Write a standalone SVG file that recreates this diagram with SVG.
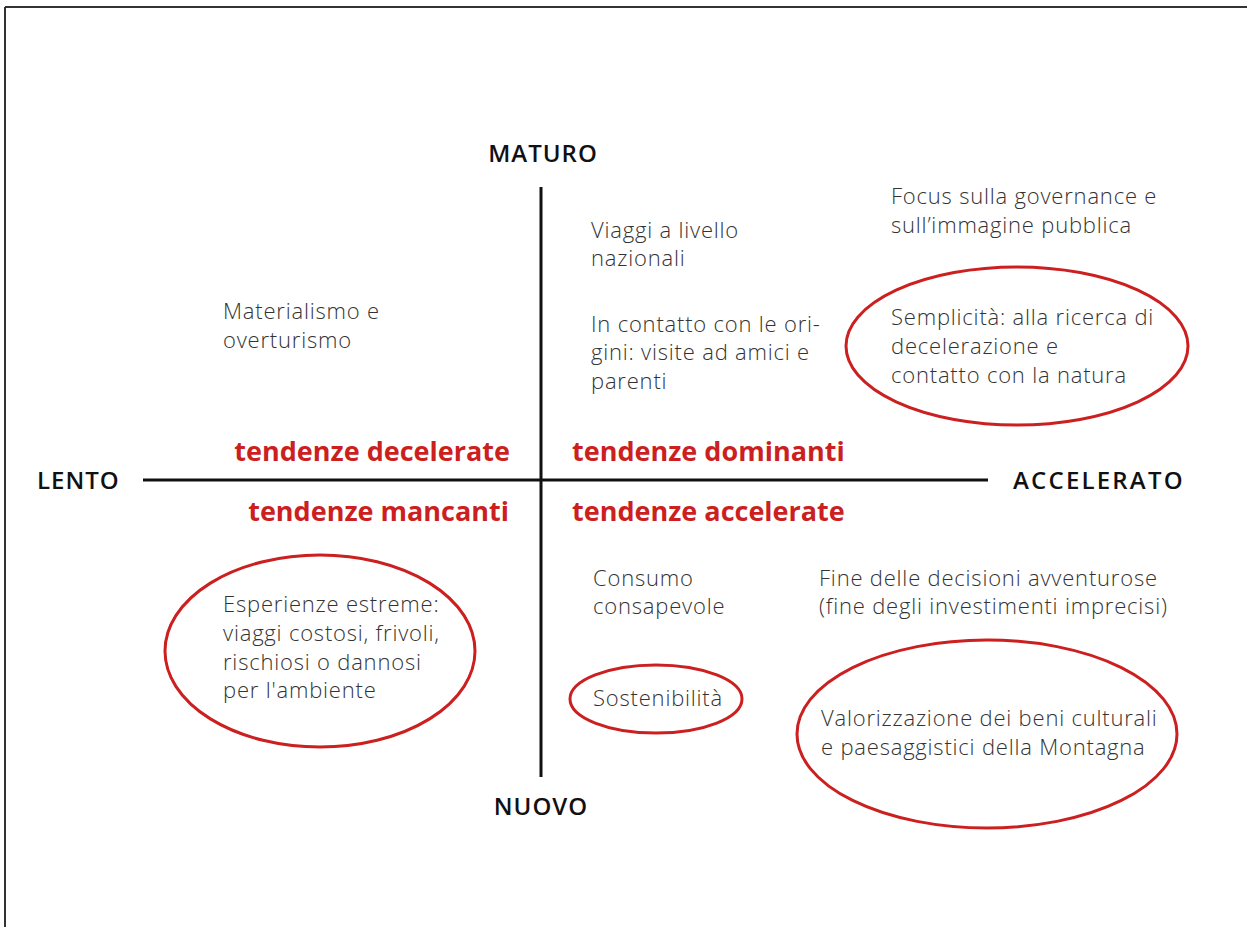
<svg xmlns="http://www.w3.org/2000/svg" width="1247" height="927" viewBox="0 0 1247 927">
<style>
.frame{stroke:#333;stroke-width:2;fill:none}
.axis{stroke:#111;stroke-width:3;fill:none}
.ring{stroke:#cc1f1f;stroke-width:3;fill:none}
.axl{font-family:"Open Sans","Liberation Sans",sans-serif;font-weight:600;font-size:24px;letter-spacing:1px;fill:#111}
.tag{font-family:"Open Sans","Liberation Sans",sans-serif;font-weight:700;font-size:27px;fill:#cc1f1f}
.txt{font-family:"Open Sans","Liberation Sans",sans-serif;font-weight:300;font-size:22px;letter-spacing:0.8px;fill:#333}
</style>
<rect width="1247" height="927" fill="#fff"/>
<g id="frame">
<line class="frame" x1="5" y1="7" x2="1247" y2="7"/>
<line class="frame" x1="5" y1="7" x2="5" y2="927"/>
</g>
<g id="connectors">
<line class="axis" x1="541" y1="187" x2="541" y2="777"/>
<line class="axis" x1="143" y1="480" x2="988" y2="480"/>
</g>
<g id="axis-labels">
<text class="axl" x="543" y="162" text-anchor="middle">MATURO</text>
<text class="axl" x="541" y="815" text-anchor="middle">NUOVO</text>
<text class="axl" x="37" y="489">LENTO</text>
<text class="axl" x="1013" y="489" style="letter-spacing:2.2px">ACCELERATO</text>
</g>
<g id="quadrant-labels">
<text class="tag" x="510" y="461" text-anchor="end">tendenze decelerate</text>
<text class="tag" x="509" y="521" text-anchor="end">tendenze mancanti</text>
<text class="tag" x="572" y="461">tendenze dominanti</text>
<text class="tag" x="572" y="521">tendenze accelerate</text>
</g>
<g id="materialismo">
<text class="txt" x="223" y="319">Materialismo e</text>
<text class="txt" x="223" y="348">overturismo</text>
</g>
<g id="viaggi">
<text class="txt" x="591" y="238">Viaggi a livello</text>
<text class="txt" x="591" y="266">nazionali</text>
</g>
<g id="contatto">
<text class="txt" x="591" y="332">In contatto con le ori-</text>
<text class="txt" x="591" y="360">gini: visite ad amici e</text>
<text class="txt" x="591" y="389">parenti</text>
</g>
<g id="focus">
<text class="txt" x="891" y="204">Focus sulla governance e</text>
<text class="txt" x="891" y="233">sull’immagine pubblica</text>
</g>
<g id="semplicita">
<ellipse class="ring" cx="1017" cy="346" rx="171" ry="79"/>
<text class="txt" x="891" y="325">Semplicità: alla ricerca di</text>
<text class="txt" x="891" y="354">decelerazione e</text>
<text class="txt" x="891" y="383">contatto con la natura</text>
</g>
<g id="esperienze">
<ellipse class="ring" cx="320" cy="651" rx="155" ry="96"/>
<text class="txt" x="223" y="612">Esperienze estreme:</text>
<text class="txt" x="223" y="641">viaggi costosi, frivoli,</text>
<text class="txt" x="223" y="670">rischiosi o dannosi</text>
<text class="txt" x="223" y="698">per l'ambiente</text>
</g>
<g id="consumo">
<text class="txt" x="593" y="586">Consumo</text>
<text class="txt" x="593" y="614">consapevole</text>
</g>
<g id="fine">
<text class="txt" x="819" y="586">Fine delle decisioni avventurose</text>
<text class="txt" x="819" y="614">(fine degli investimenti imprecisi)</text>
</g>
<g id="sostenibilita">
<ellipse class="ring" cx="656" cy="699" rx="86" ry="34"/>
<text class="txt" x="593" y="706">Sostenibilità</text>
</g>
<g id="valorizzazione">
<ellipse class="ring" cx="987" cy="734" rx="190" ry="94"/>
<text class="txt" x="821" y="726">Valorizzazione dei beni culturali</text>
<text class="txt" x="821" y="755">e paesaggistici della Montagna</text>
</g>
</svg>
